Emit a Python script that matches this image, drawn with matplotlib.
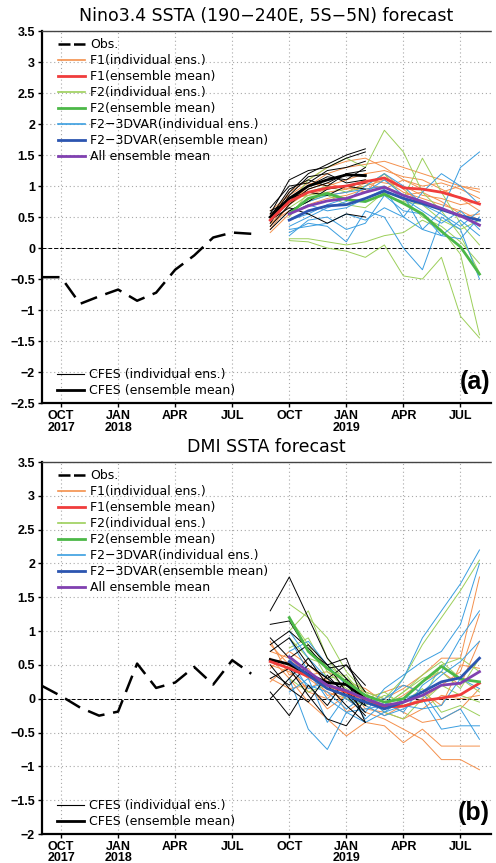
import matplotlib.pyplot as plt
import numpy as np
from matplotlib.lines import Line2D

# month index: 0 = Sep 2017
tick_pos = [1, 4, 7, 10, 13, 16, 19, 22]
tick_lab = ["OCT\n2017", "JAN\n2018", "APR", "JUL", "OCT", "JAN\n2019", "APR", "JUL"]

# ── Nino3.4 ─────────────────────────────────────────────────────────────────
nino_obs = [-0.47, -0.47, -0.9, -0.78, -0.67, -0.85, -0.72, -0.35, -0.12, 0.17, 0.25, 0.23]

# CFES: Sep 2018 - Feb 2019
nino_cfes = [
    [0.45, 0.9, 1.2, 1.35, 1.5, 1.6],
    [0.55, 1.1, 1.25, 1.3, 1.45, 1.55],
    [0.35, 0.7, 0.95, 1.05, 1.2, 1.25],
    [0.6, 0.75, 1.0, 1.15, 1.1, 1.3],
    [0.5, 0.95, 1.1, 1.0, 1.2, 1.15],
    [0.3, 0.6, 0.75, 0.95, 1.0, 1.05],
    [0.45, 0.65, 0.55, 0.4, 0.55, 0.5],
    [0.65, 1.0, 1.05, 1.25, 1.3, 1.4],
    [0.4, 0.85, 1.15, 1.2, 1.05, 1.1],
    [0.55, 0.8, 0.9, 0.85, 1.0, 0.95],
]
nino_cfes_mean = [0.5, 0.8, 1.0, 1.1, 1.18, 1.17]

# F1: Sep 2018 - Aug 2019
nino_f1 = [
    [0.3, 0.7, 1.0, 1.2, 1.3, 1.35, 1.4, 1.3, 1.2, 1.1, 1.0, 0.95],
    [0.5, 0.9, 1.1, 1.3, 1.4, 1.45, 1.3, 1.1, 1.0, 1.05, 0.95, 0.8],
    [0.4, 0.6, 0.75, 0.9, 0.95, 1.0, 1.1, 0.9, 0.8, 0.7, 0.6, 0.45],
    [0.6, 0.85, 1.05, 1.0, 1.1, 1.2, 1.25, 1.15, 1.1, 0.95, 0.8, 0.6],
    [0.25, 0.55, 0.7, 0.8, 0.85, 0.95, 1.0, 0.85, 0.9, 0.75, 0.55, 0.35],
    [0.45, 0.75, 0.95, 1.05, 0.95, 1.1, 1.05, 1.0, 0.85, 0.8, 0.7, 0.75],
    [0.35, 0.8, 0.85, 0.95, 1.0, 0.9, 1.2, 0.95, 0.7, 0.65, 0.5, 0.55],
    [0.55, 0.7, 0.9, 0.85, 0.9, 1.05, 0.95, 1.1, 0.95, 0.9, 1.0, 0.9],
]
nino_f1_mean = [0.45, 0.75, 0.9, 0.97, 1.0, 1.07, 1.13, 0.97, 0.95, 0.9, 0.81, 0.71]

# F2 and F2-3DVAR: Oct 2018 - Aug 2019
nino_f2 = [
    [0.12, 0.1, 0.0, -0.05, -0.15, 0.05, -0.45, -0.5, -0.15, -1.1, -1.45],
    [0.15, 0.15, 0.1, 0.05, 0.1, 0.2, 0.25, 0.45, 0.3, -0.1, -1.4],
    [0.7, 1.1, 1.3, 1.45, 1.3, 1.9, 1.55, 0.9, 0.6, 0.2, -0.4],
    [0.5, 0.9, 1.0, 0.9, 1.0, 1.2, 0.8, 1.45, 0.9, 0.4, 0.05],
    [0.6, 0.75, 0.85, 0.7, 0.65, 0.9, 0.8, 0.5, 0.35, 0.1, -0.25],
    [0.65, 0.85, 0.9, 0.8, 0.75, 0.85, 0.75, 0.7, 0.45, 0.3, 0.45],
]
nino_f2_mean = [0.55, 0.8, 0.88, 0.78, 0.75, 0.87, 0.72, 0.55, 0.27, 0.02, -0.42]

nino_3dvar = [
    [0.25, 0.4, 0.35, 0.1, 0.6, 0.5, 0.0, -0.35, 0.5, 0.3, -0.5],
    [0.3, 0.35, 0.4, 0.55, 0.45, 0.65, 0.5, 0.3, 0.6, 1.3, 1.55],
    [0.55, 0.7, 0.6, 0.65, 0.8, 0.95, 0.5, 0.9, 1.2, 1.0, 0.7],
    [0.45, 0.55, 0.7, 0.8, 0.9, 1.1, 0.85, 0.3, 0.2, 0.45, 0.2],
    [0.35, 0.5, 0.65, 0.75, 1.0, 1.2, 1.0, 0.7, 0.55, 0.35, 0.6],
    [0.6, 0.75, 0.85, 0.9, 0.95, 1.0, 0.8, 0.6, 0.4, 0.6, 0.3],
    [0.2, 0.45, 0.5, 0.3, 0.4, 0.85, 0.6, 0.55, 0.2, 0.15, 0.5],
]
nino_3dvar_mean = [0.45, 0.6, 0.68, 0.7, 0.8, 0.92, 0.8, 0.72, 0.62, 0.52, 0.45]
nino_all_mean = [0.55, 0.68, 0.76, 0.8, 0.9, 0.98, 0.85, 0.75, 0.64, 0.52, 0.37]

# ── DMI ─────────────────────────────────────────────────────────────────────
dmi_obs = [0.19, 0.04, -0.13, -0.25, -0.19, 0.52, 0.16, 0.24, 0.47, 0.21, 0.57, 0.37]

dmi_cfes = [
    [1.3, 1.8, 1.2, 0.6, 0.3, 0.0],
    [1.1, 1.15, 0.7, 0.5, 0.6, -0.1],
    [0.9, 0.6, 0.8, 0.5, 0.1, -0.2],
    [0.4, 0.2, 0.5, 0.3, 0.5, 0.1],
    [0.1, -0.25, 0.2, -0.1, 0.3, -0.35],
    [0.3, 0.45, 0.05, -0.3, -0.4, 0.0],
    [0.7, 0.9, 0.5, 0.3, 0.1, -0.1],
    [0.0, 0.3, 0.6, 0.2, -0.1, -0.35],
    [0.8, 1.0, 0.75, 0.45, 0.5, 0.2],
    [0.5, 0.15, -0.05, 0.35, 0.05, -0.25],
]
dmi_cfes_mean = [0.58, 0.51, 0.36, 0.24, 0.21, 0.0]

dmi_f1 = [
    [0.8, 0.5, 0.3, 0.1, 0.0, -0.2, -0.3, -0.45, -0.6, -0.9, -0.9, -1.05],
    [0.6, 0.3, -0.05, -0.3, -0.55, -0.35, -0.4, -0.65, -0.45, -0.7, -0.7, -0.7],
    [0.45, 0.7, 0.5, 0.25, 0.2, 0.1, 0.0, 0.15, 0.35, 0.6, 0.6, 1.8],
    [0.3, 0.15, 0.2, -0.15, 0.05, -0.1, -0.25, -0.1, 0.0, 0.2, 0.4, 1.25],
    [0.7, 0.6, 0.35, 0.4, 0.25, 0.15, -0.05, -0.2, -0.35, -0.3, -0.15, 0.15],
    [0.5, 0.4, 0.15, 0.3, -0.2, 0.0, 0.1, 0.2, 0.1, -0.1, 0.5, 0.45],
    [0.25, 0.5, 0.1, 0.0, 0.25, -0.15, -0.2, -0.3, -0.15, 0.05, 0.0, 0.05],
    [0.85, 0.35, 0.45, 0.05, 0.1, -0.05, -0.1, 0.05, 0.25, 0.4, 0.2, 0.85],
]
dmi_f1_mean = [0.55, 0.45, 0.33, 0.2, 0.1, 0.0, -0.12, -0.11, -0.03, 0.01, 0.06, 0.23]

dmi_f2 = [
    [1.4, 1.2, 0.9, 0.4, 0.1, 0.0, 0.3, 0.8, 1.2, 1.6, 2.05],
    [1.0, 1.3, 0.6, 0.2, -0.05, -0.1, 0.1, 0.35, 0.55, 0.3, 0.1],
    [0.9, 0.6, 0.5, 0.3, 0.1, -0.2, -0.3, 0.0, 0.5, 0.6, 0.4],
    [0.3, 0.1, 0.2, 0.0, -0.1, 0.05, -0.05, 0.15, -0.2, -0.1, -0.25],
    [0.75, 0.9, 0.4, 0.15, 0.05, -0.1, 0.1, 0.3, 0.4, 0.15, 0.6],
    [1.2, 0.8, 0.3, 0.35, 0.0, 0.1, -0.1, -0.05, 0.2, 0.05, -0.05],
]
dmi_f2_mean = [1.2, 0.7, 0.45, 0.25, 0.05, -0.05, 0.0, 0.25, 0.48, 0.29, 0.25]

dmi_3dvar = [
    [0.9, 0.4, 0.0, -0.2, -0.15, -0.1, 0.3, 0.9, 1.3, 1.7, 2.2],
    [0.3, -0.45, -0.75, -0.2, -0.35, -0.2, 0.0, 0.1, -0.3, -0.15, -0.6],
    [0.6, 0.15, 0.25, 0.0, -0.2, 0.15, 0.35, 0.55, 0.7, 1.1, 2.0],
    [0.1, 0.3, -0.35, 0.05, -0.1, -0.25, -0.15, 0.0, -0.45, -0.4, -0.4],
    [1.0, 0.6, 0.3, 0.1, -0.3, -0.05, -0.2, 0.2, 0.4, 0.9, 1.3],
    [0.45, 0.2, 0.1, -0.15, 0.05, -0.2, -0.1, -0.15, -0.1, 0.3, 0.15],
    [0.7, 0.85, 0.5, 0.2, -0.05, 0.0, 0.2, 0.1, 0.35, 0.55, 0.85],
]
dmi_3dvar_mean = [0.55, 0.35, 0.15, 0.05, -0.05, -0.15, -0.05, 0.1, 0.25, 0.31, 0.6]
dmi_all_mean = [0.62, 0.4, 0.2, 0.12, 0.0, -0.1, -0.05, 0.05, 0.2, 0.23, 0.4]

# ── Style ───────────────────────────────────────────────────────────────────
C_F1, C_F1M = "#f4904c", "#f03c3c"
C_F2, C_F2M = "#9ccf5a", "#4cb848"
C_3D, C_3DM = "#3a9ee0", "#2c55b0"
C_ALL = "#8040b0"
TICKFONT = dict(family=["Liberation Sans", "DejaVu Sans"], weight="bold", size=9)
LW_IND, LW_MEAN = 0.7, 2.0


def draw_panel(ax, obs, cfes, cfes_m, f1, f1_m, f2, f2_m, d3, d3_m, allm,
               ylim, title, tag):
    x_obs = np.arange(len(obs))
    x_cf = np.arange(12, 12 + len(cfes_m))
    x_f1 = np.arange(12, 12 + len(f1_m))
    x_f2 = np.arange(13, 13 + len(f2_m))

    ax.axhline(0, color="black", lw=0.7, ls=(0, (4, 2)), zorder=1)
    for y in f1:
        ax.plot(x_f1, y, color=C_F1, lw=LW_IND, zorder=2)
    for y in f2:
        ax.plot(x_f2, y, color=C_F2, lw=LW_IND, zorder=2)
    for y in d3:
        ax.plot(x_f2, y, color=C_3D, lw=LW_IND, zorder=2)
    for y in cfes:
        ax.plot(x_cf, y, color="black", lw=LW_IND, zorder=3)
    ax.plot(x_cf, cfes_m, color="black", lw=LW_MEAN, zorder=4)
    ax.plot(x_f1, f1_m, color=C_F1M, lw=LW_MEAN, zorder=4)
    ax.plot(x_f2, f2_m, color=C_F2M, lw=LW_MEAN, zorder=4)
    ax.plot(x_f2, d3_m, color=C_3DM, lw=LW_MEAN, zorder=4)
    ax.plot(x_f2, allm, color=C_ALL, lw=LW_MEAN, zorder=5)
    ax.plot(x_obs, obs, color="black", lw=1.8, ls=(0, (7, 3.5)), zorder=5)

    ax.set_xlim(0, 23.6)
    ax.set_ylim(*ylim)
    ax.set_yticks(np.arange(ylim[0], ylim[1] + 0.01, 0.5))
    ax.set_yticklabels([f"{v:g}".replace("-", "\u2212") for v in ax.get_yticks()],
                       fontdict=TICKFONT)
    ax.set_xticks(tick_pos)
    ax.set_xticklabels(tick_lab, fontdict=TICKFONT, linespacing=0.95)
    ax.tick_params(length=3, width=1, pad=2)
    ax.grid(color="#a8a8a8", ls=(0, (1, 2.5)), lw=0.8)
    ax.set_axisbelow(True)

    for s in ("left", "bottom"):
        ax.spines[s].set_linewidth(1.6)
    ax.spines["right"].set_visible(False)
    ax.spines["top"].set_linestyle((0, (2, 1)))
    ax.spines["top"].set_linewidth(1.0)
    ax.spines["top"].set_color("#444444")

    ax.set_title(title, fontsize=12.5, pad=7, x=0.5)
    ax.text(0.998, 0.025, tag, transform=ax.transAxes, ha="right", va="bottom",
            fontsize=18, fontweight="bold", family=["Liberation Sans", "DejaVu Sans"])

    handles = [
        Line2D([], [], color="black", lw=1.8, ls=(0, (4.8, 1.4))),
        Line2D([], [], color=C_F1, lw=1.2),
        Line2D([], [], color=C_F1M, lw=LW_MEAN),
        Line2D([], [], color=C_F2, lw=1.2),
        Line2D([], [], color=C_F2M, lw=LW_MEAN),
        Line2D([], [], color=C_3D, lw=1.2),
        Line2D([], [], color=C_3DM, lw=LW_MEAN),
        Line2D([], [], color=C_ALL, lw=LW_MEAN),
    ]
    labels = ["Obs.", "F1(individual ens.)", "F1(ensemble mean)",
              "F2(individual ens.)", "F2(ensemble mean)",
              "F2\u22123DVAR(individual ens.)", "F2\u22123DVAR(ensemble mean)",
              "All ensemble mean"]
    leg1 = ax.legend(handles, labels, loc="upper left", frameon=False,
                     fontsize=9, handlelength=2.2, handletextpad=0.4,
                     labelspacing=0.24, borderaxespad=0.15,
                     bbox_to_anchor=(0.02, 1.0))
    ax.add_artist(leg1)
    h2 = [Line2D([], [], color="black", lw=0.8), Line2D([], [], color="black", lw=LW_MEAN)]
    ax.legend(h2, ["CFES (individual ens.)", "CFES (ensemble mean)"],
              loc="lower left", frameon=False, fontsize=9, handlelength=2.2,
              handletextpad=0.4, labelspacing=0.24, borderaxespad=0.05,
              bbox_to_anchor=(0.02, 0.0))


fig = plt.figure(figsize=(4.96, 8.63), dpi=100)
ax_a = fig.add_axes([0.0847, 0.533, 0.905, 0.431])
ax_b = fig.add_axes([0.0847, 0.0336, 0.905, 0.431])

draw_panel(ax_a, nino_obs, nino_cfes, nino_cfes_mean, nino_f1, nino_f1_mean,
           nino_f2, nino_f2_mean, nino_3dvar, nino_3dvar_mean, nino_all_mean,
           (-2.5, 3.5), "Nino3.4 SSTA (190\u2212240E, 5S\u22125N) forecast", "(a)")
draw_panel(ax_b, dmi_obs, dmi_cfes, dmi_cfes_mean, dmi_f1, dmi_f1_mean,
           dmi_f2, dmi_f2_mean, dmi_3dvar, dmi_3dvar_mean, dmi_all_mean,
           (-2.0, 3.5), "DMI SSTA forecast", "(b)")

fig.savefig("out.png", dpi=100)
